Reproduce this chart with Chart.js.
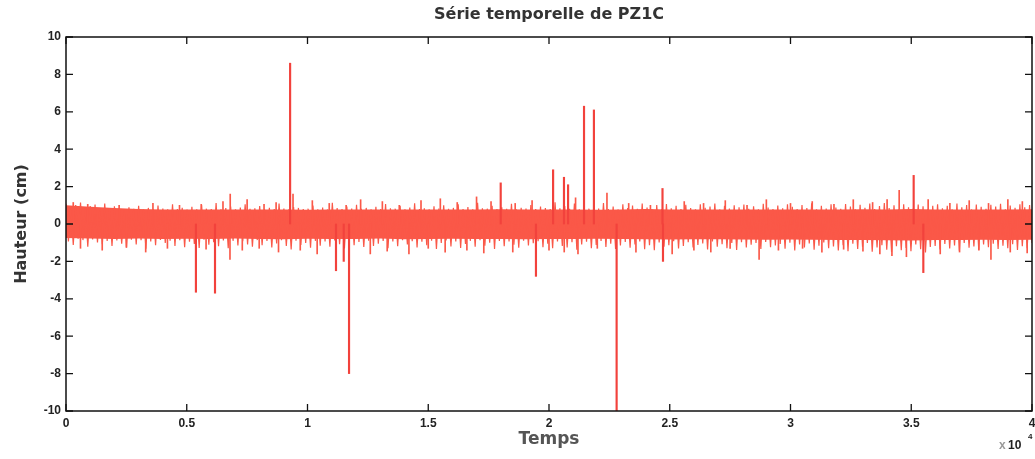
<!DOCTYPE html>
<html>
<head>
<meta charset="utf-8">
<script src="https://cdn.jsdelivr.net/npm/chart.js@4"></script>
<style>
html,body{margin:0;padding:0;background:#fff;}
#wrap{width:1035px;height:459px;}
</style>
</head>
<body>
<div id="wrap"><canvas id="c" width="1035" height="459"></canvas></div>
<script>
// ---- data (time in units of 10^4, height in cm) ----
const chartTitle = "Série temporelle de PZ1C";
const xTitle = "Temps";
const yTitle = "Hauteur (cm)";
const xExponent = "4";
const xTicks = [0, 0.5, 1, 1.5, 2, 2.5, 3, 3.5, 4];
const yTicks = [-10, -8, -6, -4, -2, 0, 2, 4, 6, 8, 10];
const tStart = 0;
const tEnd = 4;

// dense core of the signal: upper and lower envelope, sampled every 0.1 (x10^4)
const envUpper = [
1.00,0.92,0.85,0.80,0.78,0.78,0.77,0.78,0.78,0.77,0.76,0.77,0.78,0.77,0.78,0.78,0.77,0.78,0.79,0.78,
0.78,0.77,0.76,0.78,0.80,0.78,0.77,0.78,0.78,0.77,0.78,0.77,0.78,0.79,0.78,0.80,0.78,0.77,0.78,0.78,0.79
];
const envLower = [
-0.75,-0.78,-0.80,-0.78,-0.80,-0.79,-0.80,-0.78,-0.80,-0.81,-0.79,-0.80,-0.80,-0.78,-0.81,-0.80,-0.79,-0.80,-0.80,-0.82,
-0.80,-0.80,-0.79,-0.80,-0.82,-0.83,-0.82,-0.81,-0.83,-0.84,-0.83,-0.84,-0.85,-0.86,-0.87,-0.88,-0.86,-0.85,-0.84,-0.85,-0.84
];

// ragged signal samples, evenly spaced from tStart to tEnd
const noise = [
1.08,-0.94,0.92,-1.12,1.01,-0.78,1.15,-0.86,0.88,-1.21,0.96,-0.82,1.04,-0.99,0.85,-1.08,1.10,-0.91,0.83,-1.17,
0.95,-0.88,0.84,-1.05,0.79,-1.26,0.90,-0.84,0.81,-1.10,0.97,-0.87,0.78,-1.32,0.86,-0.93,0.80,-1.14,0.99,-0.85,
0.83,-1.02,0.78,-0.89,1.06,-1.18,0.80,-0.86,0.87,-1.24,0.77,-0.95,0.92,-1.07,0.79,-1.28,1.02,-0.84,0.82,-1.11,
0.80,-0.97,1.12,-1.19,0.78,-0.88,0.85,-1.30,0.93,-0.90,0.79,-1.15,0.88,-0.92,1.05,-1.09,0.81,-1.22,0.84,-0.86,
0.96,-1.13,0.79,-0.91,0.87,-1.25,0.80,-1.04,1.09,-0.87,0.83,-1.18,0.78,-1.36,0.91,-0.89,0.86,-1.12,0.80,-1.01,
0.82,-1.27,0.99,-0.90,0.79,-1.16,0.88,-0.94,0.78,-1.21,1.14,-0.88,0.85,-1.08,0.80,-1.31,0.94,-0.86,0.83,-1.14,
1.03,-0.96,0.81,-1.23,0.86,-0.89,0.79,-1.17,0.92,-1.05,0.80,-0.91,1.07,-1.29,0.84,-0.93,0.82,-1.19,0.97,-0.87,
0.79,-1.10,0.88,-0.92,1.11,-1.26,0.80,-0.95,0.84,-1.14,0.78,-0.89,0.95,-1.33,0.83,-1.02,1.00,-0.88,0.81,-1.20,
0.86,-0.93,1.05,-1.28,0.80,-1.07,0.91,-0.90,0.79,-1.22,1.13,-0.87,0.84,-1.16,0.82,-1.00,0.98,-1.34,0.80,-0.91,
0.90,-1.19,0.81,-0.94,1.08,-1.11,0.79,-1.27,0.87,-0.89,0.83,-1.15,1.02,-1.03,0.80,-0.92,0.93,-1.24,0.85,-1.06,
0.80,-1.30,1.16,-0.93,0.84,-1.18,0.96,-1.25,0.81,-0.97,1.10,-1.38,0.79,-1.09,0.89,-0.95,0.82,-1.29,1.04,-1.12,
0.83,-0.91,1.12,-1.23,0.80,-1.06,0.94,-1.33,0.78,-1.15,1.06,-0.96,0.85,-1.27,0.99,-1.10,0.81,-0.93,1.09,-1.35,
0.88,-1.14,0.80,-1.40,1.01,-0.99,0.79,-1.21,1.07,-1.13,0.84,-0.92,0.97,-1.31,0.80,-1.17,1.03,-0.98,0.86,-1.26,
0.79,-1.12,1.05,-1.04,0.87,-1.36,0.93,-0.94,1.10,-1.22,0.78,-1.08,0.98,-1.30,0.83,-1.01,1.00,-1.39,0.89,-0.97,
1.04,-1.25,0.81,-1.11,0.95,-1.02,0.79,-1.34,1.08,-0.96,0.88,-1.24,0.80,-1.15,0.99,-1.07,0.84,-1.32,1.06,-1.00,
0.92,-1.42,0.80,-1.10,1.02,-1.26,0.86,-1.04,1.11,-1.37,0.79,-1.16,0.97,-0.99,0.83,-1.30,1.05,-1.20,0.88,-1.41,
0.81,-1.13,1.07,-1.45,0.93,-1.06,0.79,-1.33,1.03,-1.22,0.87,-1.01,1.09,-1.48,0.80,-1.25,0.96,-1.14,1.12,-1.38,
0.86,-1.50,1.00,-1.19,0.78,-1.40,1.06,-1.28,0.90,-1.46,0.84,-1.09,1.04,-1.35,0.95,-1.52,0.80,-1.23,0.98,-1.17,
1.05,-1.36,0.84,-1.07,0.97,-1.31,0.79,-1.15,1.10,-1.43,0.89,-1.02,1.01,-1.27,0.78,-1.20,1.04,-1.38,0.92,-1.10,
0.81,-1.24,1.03,-1.05,0.94,-1.34,1.08,-1.16,0.79,-1.30,0.99,-1.08,0.87,-1.39,1.06,-1.19,0.90,-1.29,1.02,-1.01
];

// large isolated peaks (time, height)
const bigSpikeTimes  = [0.538, 0.617, 0.928, 1.118, 1.15, 1.172, 1.80, 1.946, 2.017, 2.062, 2.079, 2.145, 2.186, 2.28, 2.47, 2.472, 3.51, 3.55];
const bigSpikeValues = [-3.65, -3.7,  8.6,   -2.5,  -2.0, -8.0,  2.2,  -2.8,  2.9,   2.5,   2.1,   6.3,   6.1,   -10,  1.9,  -2.0,  2.6,  -2.6];

// smaller peaks just outside the band (time, height)
const smallSpikeTimes = [
0.03,0.09,0.22,0.36,0.47,0.56,0.65,0.68,0.75,0.82,0.87,0.94,1.02,1.09,1.16,1.22,1.31,1.38,1.47,
1.55,1.62,1.70,1.76,1.86,1.93,2.11,2.24,2.33,2.42,2.56,2.64,2.73,
2.82,2.90,3.00,3.09,3.18,3.26,3.34,3.40,3.45,3.57,3.66,3.74,3.82,3.90,3.96,
0.06,0.15,0.25,0.33,0.42,0.58,0.679,0.73,0.80,0.88,0.97,1.04,1.26,1.33,1.42,
1.50,1.57,1.66,1.73,1.85,2.00,2.063,2.12,2.20,2.36,2.51,2.60,2.67,2.75,2.87,2.95,3.05,
3.13,3.22,3.30,3.37,3.42,3.48,3.62,3.70,3.78,3.83,3.91,3.98
];
const smallSpikeValues = [
1.15,1.05,1.0,1.1,1.0,1.05,1.2,1.6,1.3,1.05,1.15,1.6,1.25,1.1,1.0,1.3,1.2,1.0,1.25,
1.35,1.15,1.45,1.2,1.1,1.25,1.4,1.65,1.1,1.0,1.2,1.1,1.25,
1.0,1.3,1.1,1.2,1.05,1.3,1.15,1.3,1.8,1.3,1.1,1.25,1.1,1.3,1.2,
-1.3,-1.4,-1.25,-1.5,-1.3,-1.35,-1.9,-1.4,-1.3,-1.5,-1.4,-1.6,-1.6,-1.45,-1.6,
-1.3,-1.5,-1.4,-1.55,-1.5,-1.4,-1.5,-1.6,-1.3,-1.5,-1.6,-1.4,-1.5,-1.3,-1.9,-1.4,-1.3,
-1.5,-1.35,-1.45,-1.6,-1.7,-1.75,-1.6,-1.5,-1.4,-1.9,-1.5,-1.55
];

// ---- chart ----
const bandColor = 'rgb(250,88,72)';
const spikeColor = 'rgb(242,66,60)';
const envStep = (tEnd - tStart) / (envUpper.length - 1);
const upperPoints = envUpper.map((v, i) => ({ x: tStart + i * envStep, y: v }));
const lowerPoints = envLower.map((v, i) => ({ x: tStart + i * envStep, y: v }));
const signalPoints = noise.map((v, i) => ({ x: tStart + i * (tEnd - tStart) / (noise.length - 1), y: v }));
const bigSpikePoints = bigSpikeTimes.map((t, i) => ({ x: t, y: bigSpikeValues[i] }));
const smallSpikePoints = smallSpikeTimes.map((t, i) => ({ x: t, y: smallSpikeValues[i] }));

const boxPlugin = {
  id: 'matlabBox',
  afterDatasetsDraw(chart) {
    const { ctx, chartArea: a, scales: { x, y } } = chart;
    ctx.save();
    ctx.strokeStyle = '#111';
    ctx.lineWidth = 1.5;
    ctx.strokeRect(a.left, a.top, a.right - a.left, a.bottom - a.top);
    ctx.lineWidth = 1.3;
    const tl = 7;
    ctx.beginPath();
    xTicks.forEach(v => {
      const px = x.getPixelForValue(v);
      ctx.moveTo(px, a.bottom); ctx.lineTo(px, a.bottom - tl);
      ctx.moveTo(px, a.top); ctx.lineTo(px, a.top + tl);
    });
    yTicks.forEach(v => {
      const py = y.getPixelForValue(v);
      ctx.moveTo(a.left, py); ctx.lineTo(a.left + tl, py);
      ctx.moveTo(a.right, py); ctx.lineTo(a.right - tl, py);
    });
    ctx.stroke();
    // x10^4 multiplier
    ctx.textBaseline = 'middle';
    ctx.textAlign = 'left';
    ctx.font = 'bold 12px "Liberation Sans", Arial, sans-serif';
    ctx.fillStyle = '#9a9a9a';
    ctx.fillText('x', 999, 446);
    ctx.fillStyle = '#222';
    ctx.fillText('10', 1008, 446);
    ctx.font = 'bold 8px "Liberation Sans", Arial, sans-serif';
    ctx.fillText(xExponent, 1028, 437);
    ctx.restore();
  }
};

new Chart(document.getElementById('c'), {
  type: 'line',
  data: {
    datasets: [
      {
        type: 'bar',
        label: 'grands pics',
        data: bigSpikePoints,
        backgroundColor: spikeColor,
        borderWidth: 0,
        barThickness: 1.5,
        grouped: false,
        order: 0
      },
      {
        type: 'bar',
        label: 'petits pics',
        data: smallSpikePoints,
        backgroundColor: bandColor,
        borderWidth: 0,
        barThickness: 1,
        grouped: false,
        order: 0
      },
      {
        type: 'line',
        label: 'PZ1C',
        data: signalPoints,
        borderColor: bandColor,
        borderWidth: 1.2,
        pointRadius: 0,
        tension: 0,
        fill: false,
        order: 1
      },
      {
        type: 'line',
        label: 'env+',
        data: upperPoints,
        borderWidth: 0,
        borderColor: 'rgba(0,0,0,0)',
        backgroundColor: bandColor,
        pointRadius: 0,
        tension: 0,
        fill: '+1',
        order: 2
      },
      {
        type: 'line',
        label: 'env-',
        data: lowerPoints,
        borderWidth: 0,
        borderColor: 'rgba(0,0,0,0)',
        pointRadius: 0,
        tension: 0,
        fill: false,
        order: 3
      }
    ]
  },
  options: {
    responsive: false,
    animation: false,
    layout: { padding: { left: 0, right: 3, top: 0, bottom: 0 } },
    plugins: {
      legend: { display: false },
      tooltip: { enabled: false },
      title: {
        display: true,
        text: chartTitle,
        fullSize: false,
        color: '#333',
        font: { family: '"DejaVu Sans", sans-serif', weight: 'bold', size: 16 },
        padding: { top: 5, bottom: 12.8 }
      }
    },
    scales: {
      x: {
        type: 'linear',
        min: tStart,
        max: tEnd,
        offset: false,
        grid: { display: false, drawTicks: false },
        border: { display: false },
        afterBuildTicks: s => { s.ticks = xTicks.map(v => ({ value: v })); },
        afterFit: s => { s.height = 48; s.paddingLeft = 0; s.paddingRight = 0; },
        ticks: {
          color: '#222',
          padding: 5,
          maxRotation: 0,
          autoSkip: false,
          font: { family: '"Liberation Sans", Arial, sans-serif', weight: 'bold', size: 12 },
          callback: v => String(v)
        },
        title: {
          display: true,
          text: xTitle,
          color: '#555',
          font: { family: '"DejaVu Sans", sans-serif', weight: 'bold', size: 17 },
          padding: { top: 0, bottom: 9 }
        }
      },
      y: {
        type: 'linear',
        min: -10,
        max: 10,
        grid: { display: false, drawTicks: false },
        border: { display: false },
        afterBuildTicks: s => { s.ticks = yTicks.map(v => ({ value: v })); },
        afterFit: s => { s.width = 66; },
        ticks: {
          color: '#222',
          padding: 5,
          autoSkip: false,
          font: { family: '"Liberation Sans", Arial, sans-serif', weight: 'bold', size: 12 },
          callback: v => String(v)
        },
        title: {
          display: true,
          text: yTitle,
          color: '#333',
          font: { family: '"DejaVu Sans", sans-serif', weight: 'bold', size: 16 },
          padding: { top: 12, bottom: 0 }
        }
      }
    }
  },
  plugins: [boxPlugin]
});
</script>
</body>
</html>
